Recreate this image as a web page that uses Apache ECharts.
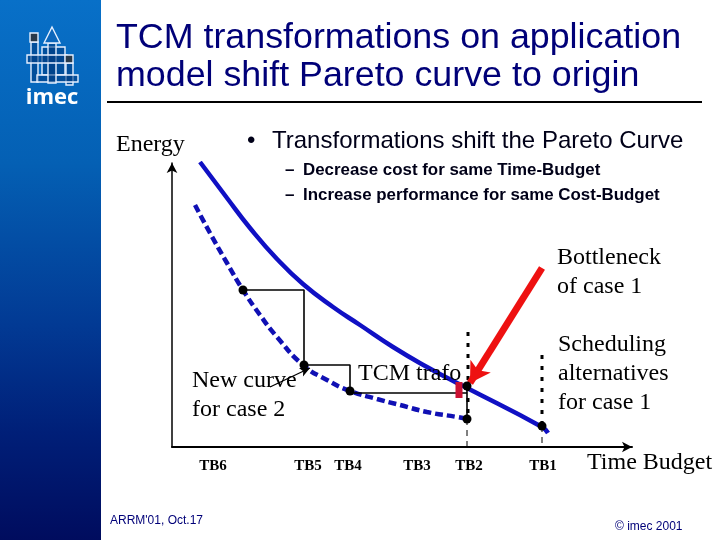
<!DOCTYPE html>
<html><head><meta charset="utf-8">
<style>html,body{margin:0;padding:0;background:#fff}#c{width:720px;height:540px}</style>
<script src="https://cdn.jsdelivr.net/npm/echarts@6/dist/echarts.min.js"></script>
</head><body><div id="c"></div>
<script>
// Values. x: time budget units, y: energy units.
const tickValues = [41, 136, 176, 245, 297, 371];
const tickLabels = ['TB6', 'TB5', 'TB4', 'TB3', 'TB2', 'TB1'];
const originalCurve = [[28,285],[55,249],[78,219],[105,188],[131,163],[161,140],[188,122],[221,100],[255,80],[285,64],[295,59],[370,20],[376,14]];
const newCurve = [[23,242],[38,214],[55,184],[71,157],[88,132],[105,110],[131,82],[155,67],[178,56],[205,48],[228,42],[255,35],[285,30],[296,28]];
const schedulePoints = [[71,157],[132,82],[178,56],[295,61],[295,28],[370,21]];
const transformStairs = [[71,157],[132,157],[132,82],[178,82],[178,54],[295,54]];
const tb2Drop = [[295,61],[295,28]];
const tb2Dotted = [[296,115],[296,30]];
const tb1Dotted = [[370,92],[370,21]];
const tb2Guide = [[295,28],[295,0]];
const tb1Guide = [[370,21],[370,0]];
const bottleneckArrow = [[370,179],[298,64]];
const newCurveArrow = [[98,60],[138,79]];
const tcmBar = [[287,65],[287,49]];

const SANS = '"Liberation Sans", Arial, sans-serif';
const SERIF = '"Liberation Serif", "Times New Roman", serif';
const NAVY = '#000078';
const BODY = '#000018';

function line(name, data, color, width, type, z) {
  return { name, type: 'line', data, symbol: 'none', silent: true, z: z || 3,
    lineStyle: { color, width, type: type || 'solid', cap: 'butt' } };
}
function arrow(name, seg, color, width, size, z) {
  return { name, type: 'line', data: [], silent: true, z: z || 6,
    markLine: { silent: true, animation: false, symbol: ['none', 'arrow'], symbolSize: size, label: { show: false },
      lineStyle: { color, width, type: 'solid', opacity: 1 },
      data: [[{ coord: seg[0] }, { coord: seg[1] }]] } };
}
function txt(text, x, y, font, fill, align) {
  return { type: 'text', z: 20, style: { text, x, y, font, fill: fill || '#000', textAlign: align || 'left', textVerticalAlign: 'middle' } };
}
function box(x, y, w, h, fill) {
  return { type: 'rect', z: 12, shape: { x, y, width: w, height: h }, style: { fill: fill || 'rgba(0,60,130,0.6)', stroke: '#e6f0ff', lineWidth: 1.4 } };
}

const graphic = [
  { type: 'rect', z: 1, shape: { x: 0, y: 0, width: 101, height: 540 },
    style: { fill: new echarts.graphic.LinearGradient(0, 0, 0, 1, [
      { offset: 0, color: '#0870c8' }, { offset: 0.3, color: '#0460b4' },
      { offset: 0.6, color: '#023a94' }, { offset: 0.8, color: '#001f78' }, { offset: 1, color: '#000c5e' }]) } },
  // logo
  box(42, 47, 23, 28), box(31, 42, 7, 40), box(66, 63, 7, 22), box(37, 75, 41, 7),
  box(48, 43, 8, 40),
  { type: 'polygon', z: 13, shape: { points: [[44, 43], [52, 27], [60, 43]] }, style: { fill: '#0b66bb', stroke: '#e6f0ff', lineWidth: 1.4 } },
  box(27, 55, 40, 8),
  box(30, 33, 8, 9, '#2a3a4a'), box(65, 55, 8, 8, '#2a3a4a'),
  txt('imec', 52, 98, 'bold 22px "Open Sans", ' + SANS, '#fff', 'center'),
  // title
  txt('TCM transformations on application', 116, 38, '35.8px ' + SANS, NAVY),
  txt('model shift Pareto curve to origin', 116, 76, '35.8px ' + SANS, NAVY),
  { type: 'line', z: 10, shape: { x1: 107, y1: 102, x2: 702, y2: 102 }, style: { stroke: '#000', lineWidth: 2 } },
  // body
  txt('\u2022', 247, 141, '24px ' + SANS, BODY),
  txt('Transformations shift the Pareto Curve', 272, 141, '24px ' + SANS, BODY),
  txt('\u2013', 285, 170, 'bold 17px ' + SANS, BODY),
  txt('Decrease cost for same Time-Budget', 303, 170, 'bold 16.9px ' + SANS, BODY),
  txt('\u2013', 285, 195, 'bold 17px ' + SANS, BODY),
  txt('Increase performance for same Cost-Budget', 303, 195, 'bold 16.9px ' + SANS, BODY),
  txt('Energy', 116, 145, '24px ' + SERIF),
  txt('Bottleneck', 557, 258, '24px ' + SERIF),
  txt('of case 1', 557, 287, '24px ' + SERIF),
  txt('Scheduling', 558, 345, '24px ' + SERIF),
  txt('alternatives', 558, 374, '24px ' + SERIF),
  txt('for case 1', 558, 403, '24px ' + SERIF),
  txt('New curve', 192, 381, '24px ' + SERIF),
  txt('for case 2', 192, 410, '24px ' + SERIF),
  txt('TCM trafo', 358, 374, '24px ' + SERIF),
  txt('Time Budget', 587, 463, '24px ' + SERIF),
  txt("ARRM'01, Oct.17", 110, 521, '12px ' + SANS, NAVY),
  txt('\u00A9 imec 2001', 615, 527, '12px ' + SANS, NAVY)
];

const chart = echarts.init(document.getElementById('c'), null, { renderer: 'canvas' });
chart.setOption({
  animation: false,
  backgroundColor: '#fff',
  grid: { left: 172, top: 163, width: 460, height: 284, containLabel: false },
  xAxis: { type: 'value', min: 0, max: 460, splitLine: { show: false },
    axisLine: { onZero: false, lineStyle: { color: '#000', width: 2 }, symbol: ['none', 'arrow'], symbolSize: [8, 10] },
    axisTick: { show: false },
    axisLabel: { customValues: tickValues, margin: 12, color: '#000',
      fontFamily: 'Liberation Serif', fontWeight: 'bold', fontSize: 15,
      formatter: v => tickLabels[tickValues.indexOf(v)] || '' } },
  yAxis: { type: 'value', min: 0, max: 284, splitLine: { show: false },
    axisLine: { onZero: false, lineStyle: { color: '#000', width: 1.5 }, symbol: ['none', 'arrow'], symbolSize: [8, 10] },
    axisTick: { show: false }, axisLabel: { show: false } },
  series: [
    line('tb2 guide', tb2Guide, '#000', 1, [6, 5], 2),
    line('tb1 guide', tb1Guide, '#000', 1, [6, 5], 2),
    Object.assign(line('original curve', originalCurve, '#1010c4', 4.5, 'solid', 3), { smooth: 0.5 }),
    Object.assign(line('new curve', newCurve, '#1010b4', 4.5, [8, 4], 3), { smooth: 0.5 }),
    line('transformation stairs', transformStairs, '#000', 1.6, 'solid', 4),
    line('tb2 drop', tb2Drop, '#000', 1.6, 'solid', 4),
    line('tb2 dotted', tb2Dotted, '#000', 3, [4, 7], 4),
    line('tb1 dotted', tb1Dotted, '#000', 3, [4, 7], 4),
    line('tcm bar', tcmBar, '#cc1133', 7, 'solid', 4),
    { name: 'schedules', type: 'scatter', data: schedulePoints, symbolSize: 9, silent: true, z: 5, itemStyle: { color: '#000', opacity: 1 } },
    arrow('new curve arrow', newCurveArrow, '#000', 1.3, [7, 10], 6),
    arrow('bottleneck arrow', bottleneckArrow, '#ee1111', 7, [18, 20], 6)
  ],
  graphic
});
</script></body></html>
